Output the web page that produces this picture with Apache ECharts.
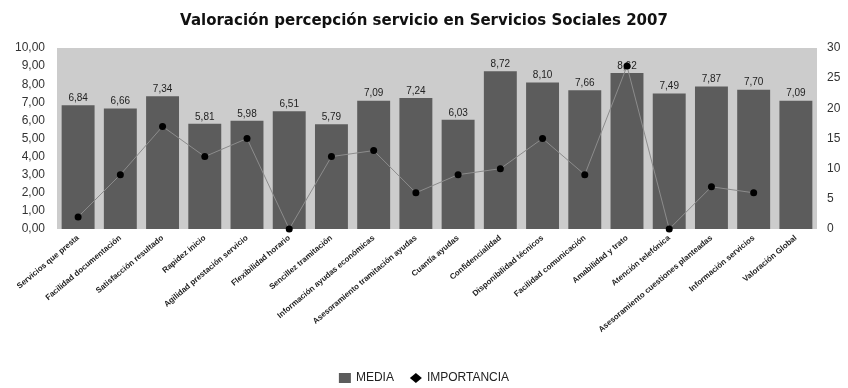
<!DOCTYPE html>
<html>
<head>
<meta charset="utf-8">
<script src="https://cdn.jsdelivr.net/npm/echarts@6/dist/echarts.min.js"></script>
<style>
  html, body { margin: 0; padding: 0; background: #fff; }
  #chart { width: 848px; height: 388px; }
</style>
</head>
<body>
<div id="chart"></div>
<script>
// Service aspects rated by users
const categories = [
  'Servicios que presta',
  'Facilidad documentación',
  'Satisfacción resultado',
  'Rapidez inicio',
  'Agilidad prestación servicio',
  'Flexibilidad horario',
  'Sencillez tramitación',
  'Información ayudas económicas',
  'Asesoramiento tramitación ayudas',
  'Cuantía ayudas',
  'Confidencialidad',
  'Disponibilidad técnicos',
  'Facilidad comunicación',
  'Amabilidad y trato',
  'Atención telefónica',
  'Asesoramiento cuestiones planteadas',
  'Información servicios',
  'Valoración Global'
];

// Average score (left axis, 0-10)
const media = [6.84, 6.66, 7.34, 5.81, 5.98, 6.51, 5.79, 7.09, 7.24, 6.03,
               8.72, 8.10, 7.66, 8.62, 7.49, 7.87, 7.70, 7.09];

// Importance (right axis, 0-30); no value for the global rating
const importancia = [2, 9, 17, 12, 15, 0, 12, 13, 6, 9,
                     10, 15, 9, 27, 0, 7, 6, null];

const fmt = v => v.toFixed(2).replace('.', ',');

const chart = echarts.init(document.getElementById('chart'));
chart.setOption({
  animation: false,
  textStyle: { fontFamily: 'Liberation Sans, Arial, sans-serif' },
  title: {
    text: 'Valoración percepción servicio en Servicios Sociales 2007',
    left: 'center',
    top: 9,
    textStyle: {
      fontFamily: 'DejaVu Sans, sans-serif',
      fontSize: 15, fontWeight: 'bold', color: '#111'
    }
  },
  legend: {
    bottom: -1,
    left: 'center',
    itemGap: 16,
    itemWidth: 12,
    itemHeight: 10,
    textStyle: { fontSize: 12, color: '#222' },
    data: [
      { name: 'MEDIA', icon: 'rect' },
      { name: 'IMPORTANCIA', icon: 'diamond' }
    ]
  },
  grid: {
    left: 57, right: 31, top: 48, bottom: 159,
    show: true, backgroundColor: '#cccccc', borderWidth: 0
  },
  xAxis: {
    type: 'category',
    data: categories,
    axisTick: { show: false },
    axisLine: { show: false },
    axisLabel: {
      interval: 0,
      rotate: 40,
      fontSize: 8,
      fontWeight: 'bold',
      color: '#222',
      margin: 8
    }
  },
  yAxis: [
    {
      type: 'value', min: 0, max: 10, interval: 1,
      splitLine: { show: false },
      axisLine: { show: false },
      axisTick: { show: false },
      axisLabel: { fontSize: 12, color: '#333', margin: 12, formatter: v => fmt(v) }
    },
    {
      type: 'value', min: 0, max: 30, interval: 5,
      splitLine: { show: false },
      axisLine: { show: false },
      axisTick: { show: false },
      axisLabel: { fontSize: 12, color: '#333', margin: 10 }
    }
  ],
  series: [
    {
      name: 'MEDIA',
      type: 'bar',
      data: media,
      barCategoryGap: '22%',
      itemStyle: { color: '#5c5c5c' },
      label: {
        show: true, position: 'top', distance: 2,
        fontSize: 10, color: '#222',
        formatter: p => fmt(p.value)
      }
    },
    {
      name: 'IMPORTANCIA',
      type: 'line',
      yAxisIndex: 1,
      data: importancia,
      symbol: 'circle',
      symbolSize: 7,
      connectNulls: false,
      itemStyle: { color: '#000' },
      lineStyle: { color: '#8c8c8c', width: 1 },
      z: 5
    }
  ]
});
</script>
</body>
</html>
